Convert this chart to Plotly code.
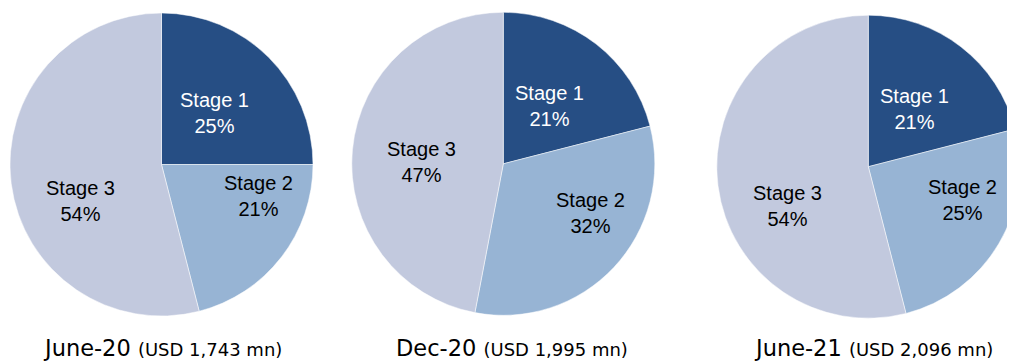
import math

import plotly.graph_objects as go

# ── Data ──────────────────────────────────────────────────────────────────────
stages = ["Stage 1", "Stage 2", "Stage 3"]
periods = ["June-20", "Dec-20", "June-21"]
totals = ["USD 1,743 mn", "USD 1,995 mn", "USD 2,096 mn"]
share_jun20 = [25, 21, 54]
share_dec20 = [21, 32, 47]
share_jun21 = [21, 25, 54]

# ── Style ─────────────────────────────────────────────────────────────────────
W, H = 1015, 362
OFF = 8                      # page body margin the figure sits inside
_COLORS = ["#264e84", "#97b4d4", "#c2c9de"]
_TXT = ["#ffffff", "#000000", "#000000"]
_FONT = "Liberation Sans, Arial, sans-serif"

# pie centres (page px) and radius
centres = [(161.5, 164.5), (503.3, 163.8), (868.3, 166.7)]
R = 151.5
# label placement per slice: (degrees off the slice bisector, fraction of radius)
label_pos = [
    [(1, 0.49), (-20, 0.675), (-17, 0.585)],
    [(1, 0.49), (-14, 0.66), (-4, 0.54)],
    [(1, 0.49), (-11, 0.66), (-19, 0.595)],
]
# caption centres (page px)
cap_x = [162, 512, 873]


def _px(x, y):
    """page pixel -> paper coords."""
    return (x - OFF) / W, 1 - (y - OFF) / H


fig = go.Figure()
for vals, (cx, cy), lp in zip([share_jun20, share_dec20, share_jun21],
                              centres, label_pos):
    x0, y1 = _px(cx - R, cy - R)
    x1, y0 = _px(cx + R, cy + R)
    fig.add_trace(go.Pie(
        labels=stages, values=vals, sort=False, direction="clockwise",
        domain=dict(x=[x0, min(x1, 1.0)], y=[y0, y1]),
        marker=dict(colors=_COLORS, line=dict(color="#ffffff", width=0.5)),
        textinfo="none", hoverinfo="label+value", showlegend=False,
    ))

    # Excel-style labels: placed along each slice's bisector
    tot = sum(vals)
    start = 0.0
    for i, v in enumerate(vals):
        mid = (start + v / 2) / tot * 360
        start += v
        da, fr = lp[i]
        a = math.radians(mid + da)
        lx, ly = _px(cx + fr * R * math.sin(a), cy - fr * R * math.cos(a))
        fig.add_annotation(
            x=lx, y=ly, xref="paper", yref="paper", showarrow=False,
            xanchor="center", yanchor="middle",
            text=f"{stages[i]}<br>{v}%",
            font=dict(family=_FONT, size=20, color=_TXT[i]),
        )

for period, total, cx in zip(periods, totals, cap_x):
    fig.add_annotation(
        x=(cx - OFF) / W, y=0.02, xref="paper", yref="paper",
        xanchor="center", yanchor="bottom", showarrow=False,
        text=f"{period} <span style='font-size:18px'>({total})</span>",
        font=dict(family="DejaVu Sans, sans-serif", size=22.5, color="#000000"),
    )

fig.update_layout(
    width=W, height=H,
    margin=dict(l=0, r=0, t=0, b=0),
    paper_bgcolor="#ffffff", plot_bgcolor="#ffffff",
)

fig.write_html("out.html")
